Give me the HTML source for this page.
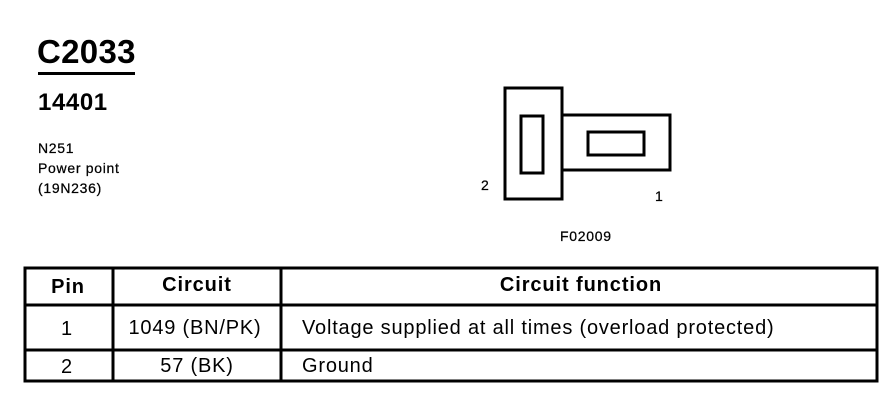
<!DOCTYPE html>
<html><head><meta charset="utf-8"><style>
html,body{margin:0;padding:0;background:#fff;}
svg{display:block;}
text{font-family:"Liberation Sans",Arial,sans-serif;fill:#000;}
.s{font-size:14px;letter-spacing:0.7px;stroke:#000;stroke-width:0.25;}
.t{font-size:20px;letter-spacing:0.8px;}
.h{font-size:20px;font-weight:bold;letter-spacing:0.9px;}
</style></head><body>
<svg width="896" height="416" viewBox="0 0 896 416" xmlns="http://www.w3.org/2000/svg">
<text x="37" y="63" font-size="33" font-weight="bold" letter-spacing="0.3">C2033</text>
<rect x="38" y="72" width="97" height="3" fill="#000"/>
<text x="38" y="110" font-size="24" font-weight="bold" letter-spacing="0.6">14401</text>
<text x="38" y="153" class="s">N251</text>
<text x="38" y="173" class="s">Power point</text>
<text x="38" y="193" class="s">(19N236)</text>

<g fill="none" stroke="#000" stroke-width="3">
<rect x="505" y="88" width="57" height="111"/>
<path d="M562 115 H670 V170 H562"/>
<rect x="521" y="116" width="22" height="57"/>
<rect x="588" y="132" width="56" height="23"/>
</g>
<text x="481" y="190" class="s">2</text>
<text x="655" y="201" class="s">1</text>
<text x="560" y="241" class="s">F02009</text>

<g fill="none" stroke="#000" stroke-width="3">
<rect x="25" y="268" width="852" height="113"/>
<line x1="25" y1="305" x2="877" y2="305"/>
<line x1="25" y1="350" x2="877" y2="350"/>
<line x1="113" y1="268" x2="113" y2="381"/>
<line x1="281" y1="268" x2="281" y2="381"/>
</g>
<text x="68" y="293" class="h" text-anchor="middle">Pin</text>
<text x="197" y="291" class="h" text-anchor="middle">Circuit</text>
<text x="581" y="291" class="h" text-anchor="middle">Circuit function</text>
<text x="67" y="335" class="t" text-anchor="middle">1</text>
<text x="195" y="334" class="t" text-anchor="middle">1049 (BN/PK)</text>
<text x="302" y="334" class="t">Voltage supplied at all times (overload protected)</text>
<text x="67" y="373" class="t" text-anchor="middle">2</text>
<text x="197" y="372" class="t" text-anchor="middle">57 (BK)</text>
<text x="302" y="372" class="t">Ground</text>
</svg>
</body></html>
